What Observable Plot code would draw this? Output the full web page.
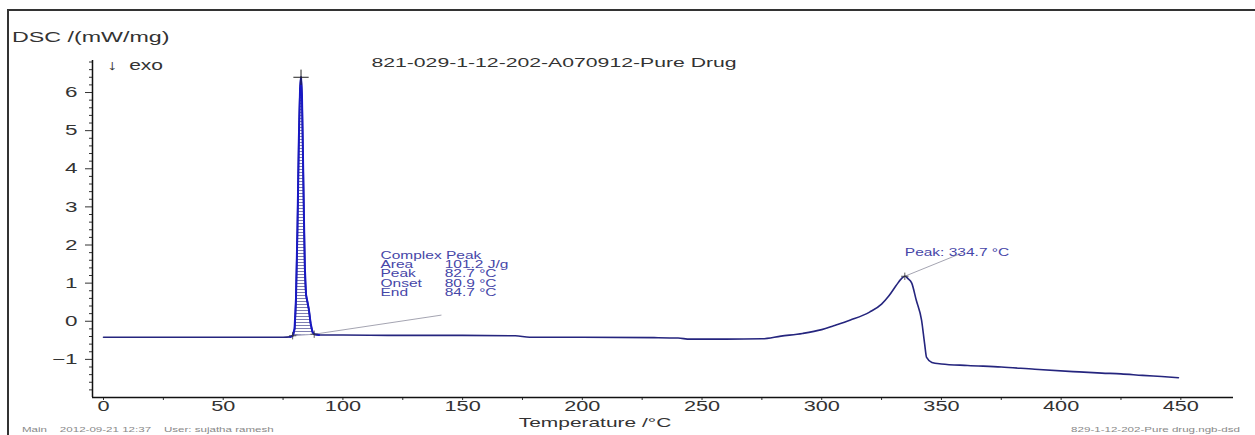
<!DOCTYPE html>
<html>
<head>
<meta charset="utf-8">
<script src="https://cdn.jsdelivr.net/npm/d3@7"></script>
<script src="https://cdn.jsdelivr.net/npm/@observablehq/plot@0.6"></script>
<style>
  html, body { margin: 0; padding: 0; background: #fff; overflow: hidden; }
  #wrap { position: relative; width: 1255px; height: 435px; overflow: hidden; font-family: "Liberation Sans", Arial, sans-serif; }
  #frame { position: absolute; left: 7px; top: 9px; width: 1300px; height: 500px; border-left: 2px solid #333; border-top: 2px solid #333; }
  .t { position: absolute; white-space: pre; line-height: 1; color: #333; }
  #chart { position: absolute; left: 0; top: 0; }
</style>
</head>
<body>
<svg width="0" height="0" style="position:absolute">
  <defs>
    <pattern id="hatch" width="4" height="3" patternUnits="userSpaceOnUse">
      <line x1="0" y1="1.5" x2="4" y2="1.5" stroke="#6f6fa8" stroke-width="0.9"></line>
    </pattern>
  </defs>
</svg>
<div id="wrap">
  <div id="frame"></div>
  <div id="chart"></div>
  <div class="t" id="ylab" style="left:12px; top:30px; font-size:14px; transform-origin:left center; transform:scaleX(1.66);"></div>
  <div class="t" id="exo" style="left:107px; top:58px; font-size:14px; transform-origin:left center; transform:scaleX(1.5);"></div>
  <div class="t" id="title" style="left:554px; top:56px; font-size:13px; transform:translateX(-50%) scaleX(1.63);"></div>
  <div class="t" id="xlab" style="left:595px; top:416px; font-size:13.5px; transform:translateX(-50%) scaleX(1.55);"></div>
  <div class="t" id="footL" style="left:22px; top:426px; font-size:7px; color:#888; transform-origin:left center; transform:scaleX(1.65);"></div>
  <div class="t" id="footR" style="left:1240px; top:426px; font-size:7px; color:#888; transform-origin:right center; transform:translateX(-100%) scaleX(1.65);"></div>
</div>
<script>
// ---- text ----
const yLabel = "DSC /(mW/mg)";
const exoLabel = "\u2193  exo";
const titleText = "821-029-1-12-202-A070912-Pure Drug";
const xLabel = "Temperature /\u00b0C";
const footerLeft = "Main    2012-09-21 12:37    User: sujatha ramesh";
const footerRight = "829-1-12-202-Pure drug.ngb-dsd";

// ---- ticks ----
const xTicks = [0, 50, 100, 150, 200, 250, 300, 350, 400, 450];
const xMinorTicks = [25, 75, 125, 175, 225, 275, 325, 375, 425];
const yTicks = [-1, 0, 1, 2, 3, 4, 5, 6];

// ---- DSC curve (temperature °C, DSC mW/mg) ----
const temperature = [0, 20, 40, 60, 75, 78, 79, 79.8, 80.4, 81, 81.6, 82.1, 82.5, 82.9, 83.3, 83.7, 84.1, 84.6, 85.2, 85.8, 86.5, 87.3, 88, 90, 100, 120, 150, 172, 178, 200, 230, 240, 245, 260, 275, 283, 292, 300, 305, 312, 320, 325, 328, 331, 333.5, 334.7, 336, 337.6, 339.5, 341.7, 343, 343.8, 346, 350, 361, 375, 389, 405, 417, 425, 434, 442, 449];
const dsc = [-0.42, -0.42, -0.42, -0.42, -0.42, -0.41, -0.38, -0.2, 0.6, 2.4, 4.8, 6.1, 6.4, 5.9, 4.4, 2.8, 1.4, 0.7, 0.5, 0.3, -0.05, -0.28, -0.34, -0.36, -0.36, -0.37, -0.37, -0.38, -0.42, -0.42, -0.43, -0.44, -0.47, -0.47, -0.46, -0.39, -0.32, -0.22, -0.12, 0.03, 0.24, 0.45, 0.66, 0.93, 1.13, 1.18, 1.12, 1.0, 0.55, 0.03, -0.6, -0.95, -1.08, -1.12, -1.16, -1.2, -1.26, -1.32, -1.36, -1.38, -1.42, -1.45, -1.48];

// ---- evaluation of the complex peak ----
const integStart = [79, -0.38];
const integEnd = [88, -0.34];
const peak1 = [82.5, 6.4];
const leader1 = [[88, -0.34], [141, 0.16]];
const annLabels = ["Complex Peak", "Area", "Peak", "Onset", "End"];
const annValues = ["", "101.2 J/g", "82.7 \u00b0C", "80.9 \u00b0C", "84.7 \u00b0C"];
// ---- second peak ----
const peak2 = [334.7, 1.18];
const leader2 = [[334.7, 1.18], [358.6, 1.79]];
const peak2Label = "Peak: 334.7 \u00b0C";

document.getElementById("ylab").textContent = yLabel;
document.getElementById("exo").textContent = exoLabel;
document.getElementById("title").textContent = titleText;
document.getElementById("xlab").textContent = xLabel;
document.getElementById("footL").textContent = footerLeft;
document.getElementById("footR").textContent = footerRight;

const data = temperature.map((t, i) => ({t, v: dsc[i]}));
const baseAt = t => integStart[1] + (t - integStart[0]) * (integEnd[1] - integStart[1]) / (integEnd[0] - integStart[0]);
const hatchData = data.filter(d => d.t >= integStart[0] && d.t <= integEnd[0]);
const peakSeg = data.filter(d => d.t >= 78 && d.t <= 90);

const xMin = -4.6, xMax = 472, yMin = -2, yMax = 6.84;
const annColor = "#4646a8";
const annRows = annLabels.map((s, i) => ({s, v: annValues[i], i}));

const chart = Plot.plot({
  width: 1255,
  height: 435,
  marginLeft: 92,
  marginRight: 22,
  marginTop: 60,
  marginBottom: 38,
  x: {domain: [xMin, xMax], label: null},
  y: {domain: [yMin, yMax], label: null},
  style: {fontFamily: "'Liberation Sans', Arial, sans-serif", fontSize: "13px", color: "#333", background: "transparent"},
  marks: [
    Plot.axisY({ticks: d3.range(-20, 69, 2).map(d => d / 10).filter(d => !Number.isInteger(d)), tickSize: 3, tickFormat: () => "", label: null, stroke: "#333"}),
    Plot.axisY({ticks: yTicks, tickSize: 7, tickPadding: 8, label: null, fontSize: 14.5, stroke: "#333"}),
    Plot.axisX({ticks: xMinorTicks, tickSize: 3, tickFormat: () => "", label: null, stroke: "#333"}),
    Plot.axisX({ticks: xTicks, tickSize: 3, tickPadding: 1, label: null, fontSize: 14, stroke: "#333"}),
    Plot.ruleX([xMin], {stroke: "#111", strokeWidth: 1.5}),
    Plot.ruleY([yMin], {stroke: "#111", strokeWidth: 1.5}),
    Plot.areaY(hatchData, {x: "t", y1: d => baseAt(d.t), y2: "v", fill: "url(#hatch)"}),
    Plot.line([integStart, integEnd], {stroke: "#8888aa", strokeWidth: 0.8}),
    Plot.line(leader1, {stroke: "#9a9aa8", strokeWidth: 0.9}),
    Plot.line(leader2, {stroke: "#9a9aa8", strokeWidth: 0.9}),
    Plot.line(data, {x: "t", y: "v", stroke: "#25257e", strokeWidth: 1.6, curve: "monotone-x"}),
    Plot.line(peakSeg, {x: "t", y: "v", stroke: "#1818c4", strokeWidth: 2}),
    Plot.dot([peak1], {symbol: "plus", r: 5, stroke: "#222", strokeWidth: 1}),
    Plot.dot([integStart, integEnd, peak2], {symbol: "plus", r: 2.5, stroke: "#333", strokeWidth: 0.8}),
    Plot.text(annRows, {x: 115.7, y: d => 1.73 - d.i * 0.245, text: "s", textAnchor: "start", fill: annColor, fontSize: 10}),
    Plot.text(annRows, {x: 142.5, y: d => 1.73 - d.i * 0.245, text: "v", textAnchor: "start", fill: annColor, fontSize: 10}),
    Plot.text([peak2Label], {x: peak2[0], y: 1.8, text: d => d, textAnchor: "start", fill: annColor, fontSize: 10})
  ]
});
document.getElementById("chart").appendChild(chart);

// horizontal stretch of the SVG text, matching the wide lettering of the original
chart.querySelectorAll("text").forEach(t => {
  const items = t.querySelectorAll("tspan").length ? t.querySelectorAll("tspan") : [t];
  items.forEach(el => {
    const w = el.getComputedTextLength();
    if (w > 0) {
      el.setAttribute("textLength", (w * 1.55).toFixed(1));
      el.setAttribute("lengthAdjust", "spacingAndGlyphs");
    }
  });
});
</script>
</body>
</html>
